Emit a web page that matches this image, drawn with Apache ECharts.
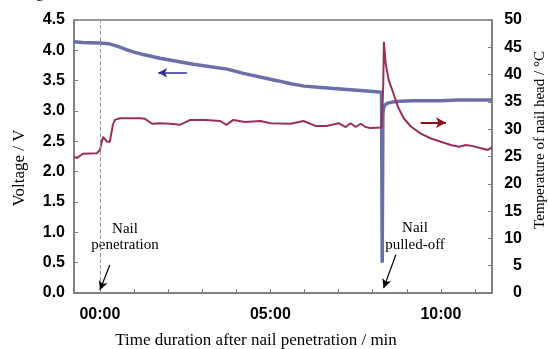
<!DOCTYPE html>
<html>
<head>
<meta charset="utf-8">
<script src="https://cdn.jsdelivr.net/npm/echarts@6/dist/echarts.min.js"></script>
<style>
html,body{margin:0;padding:0;background:#fff;}
#main{width:548px;height:349px;}
</style>
</head>
<body>
<div id="main"></div>
<script>
// ---- data (time in minutes after nail penetration) ----
const timeV = [-0.76, -0.5, 0, 0.25, 0.5, 0.78, 1.0, 1.27, 1.76, 2.25, 2.74, 3.25, 3.73, 4.21, 4.7, 5.2, 5.6, 6.0, 6.4, 6.86, 7.35, 7.84, 8.26, 8.28, 8.30, 8.32, 8.36, 8.45, 8.6, 8.8, 9.2, 9.6, 10.0, 10.5, 11.0, 11.5];
const voltage = [4.14, 4.13, 4.12, 4.11, 4.07, 4.01, 3.97, 3.93, 3.87, 3.82, 3.77, 3.73, 3.69, 3.62, 3.56, 3.50, 3.45, 3.41, 3.39, 3.37, 3.35, 3.33, 3.31, 0.5, 2.95, 3.04, 3.10, 3.13, 3.15, 3.16, 3.17, 3.17, 3.17, 3.18, 3.18, 3.18];

const timeT = [-0.76, -0.68, -0.5, -0.09, 0, 0.09, 0.21, 0.29, 0.38, 0.44, 0.59, 1.18, 1.32, 1.53, 1.76, 2.06, 2.35, 2.65, 3.09, 3.53, 3.71, 3.91, 4.26, 4.71, 5.0, 5.59, 5.97, 6.32, 6.65, 7.0, 7.21, 7.35, 7.5, 7.65, 7.79, 7.94, 8.26, 8.31, 8.33, 8.38, 8.47, 8.59, 8.74, 8.91, 9.12, 9.41, 9.71, 10.0, 10.29, 10.53, 10.74, 10.94, 11.18, 11.38, 11.5];
const temperature = [25.0, 24.7, 25.5, 25.6, 26.2, 28.6, 27.7, 27.7, 30.8, 31.7, 32.0, 32.0, 31.9, 31.0, 31.1, 31.0, 30.8, 31.7, 31.7, 31.5, 30.8, 31.7, 31.3, 31.5, 31.1, 31.0, 31.5, 30.6, 30.6, 31.1, 30.4, 31.1, 30.4, 31.0, 30.4, 30.2, 30.3, 38.0, 46.0, 42.1, 39.0, 36.9, 34.1, 32.0, 30.5, 29.2, 28.3, 27.7, 27.1, 26.8, 27.1, 26.9, 26.5, 26.2, 26.7];

const xLabelValues = [0, 5, 10];
const xTickValues = [0, 1, 2, 3, 4, 5, 6, 7, 8, 9, 10, 11];

const penetrationTime = 0;
const voltageArrow = [[2.55, 3.63], [1.71, 3.63]];
const tempArrow = [[9.41, 31.2], [10.15, 31.2]];
const penetrationArrow = [[0.29, 0.46], [0.0, 0.05]];
const pulloffArrow = [[8.68, 0.63], [8.32, 0.08]];

// ---- chart ----
const chart = echarts.init(document.getElementById('main'));
const labelFont = {fontFamily: '"Liberation Sans", Arial, sans-serif', fontWeight: 'bold', fontSize: 16, color: '#000'};
const serif = '"Liberation Serif", "Times New Roman", serif';
const frameColor = '#7a7a7a';

function arrowLine(pts, color, width, size) {
  return [
    {coord: pts[0], symbol: 'none', lineStyle: {color: color, width: width, type: 'solid'}},
    {coord: pts[1], symbol: 'arrow', symbolSize: size}
  ];
}

const option = {
  animation: false,
  backgroundColor: '#fff',
  grid: {left: 74, right: 56, top: 20, bottom: 56, show: true, borderColor: frameColor, borderWidth: 1.5, backgroundColor: 'transparent'},
  xAxis: {
    type: 'value', min: -0.76, max: 11.5,
    axisLine: {show: true, onZero: false, lineStyle: {color: frameColor, width: 1.5}},
    axisTick: {show: true, inside: true, length: 4, customValues: xTickValues, lineStyle: {color: frameColor}},
    axisLabel: Object.assign({margin: 14, customValues: xLabelValues,
      formatter: v => (v < 10 ? '0' : '') + v + ':00'}, labelFont),
    splitLine: {show: false}
  },
  yAxis: [
    {
      type: 'value', min: 0, max: 4.5, interval: 0.5, position: 'left',
      axisLine: {show: true, onZero: false, lineStyle: {color: frameColor, width: 1.5}},
      axisTick: {show: true, inside: true, length: 4, lineStyle: {color: frameColor}},
      axisLabel: Object.assign({margin: 9, formatter: v => v.toFixed(1)}, labelFont),
      splitLine: {show: false}
    },
    {
      type: 'value', min: 0, max: 50, interval: 5, position: 'right',
      axisLine: {show: true, onZero: false, lineStyle: {color: frameColor, width: 1.5}},
      axisTick: {show: true, inside: true, length: 4, lineStyle: {color: frameColor}},
      axisLabel: Object.assign({margin: 30, align: 'right'}, labelFont),
      splitLine: {show: false}
    }
  ],
  series: [
    {
      name: 'Voltage', type: 'line', yAxisIndex: 0, showSymbol: false, symbol: 'none',
      data: timeV.map((t, i) => [t, voltage[i]]),
      lineStyle: {color: '#6B6FA8', width: 3.5},
      z: 3,
      markLine: {
        silent: true, animation: false, symbol: ['none', 'none'],
        label: {show: false},
        lineStyle: {color: '#999', width: 1, type: 'dashed'},
        data: [
          [{coord: [penetrationTime, 0], symbol: 'none'},
           {coord: [penetrationTime, 4.5], symbol: 'none'}],
          arrowLine(voltageArrow, '#2c2c96', 1.5, [7, 9]),
          arrowLine(penetrationArrow, '#000', 1.2, [7, 9]),
          arrowLine(pulloffArrow, '#000', 1.2, [7, 9])
        ]
      }
    },
    {
      name: 'Temperature', type: 'line', yAxisIndex: 1, showSymbol: false, symbol: 'none',
      data: timeT.map((t, i) => [t, temperature[i]]),
      lineStyle: {color: '#9A2F5E', width: 2},
      z: 4,
      markLine: {
        silent: true, animation: false, symbol: ['none', 'none'],
        label: {show: false},
        data: [arrowLine(tempArrow, '#8b1414', 2, [8, 10])]
      }
    }
  ],
  graphic: [
    {type: 'text', x: 20, y: 168, rotation: Math.PI / 2,
     style: {text: 'Voltage / V', font: '17px ' + serif, fill: '#000', align: 'center', verticalAlign: 'middle'}},
    {type: 'text', x: 540, y: 140, rotation: Math.PI / 2,
     style: {text: 'Temperature of nail head / °C', font: '15px ' + serif, fill: '#000', align: 'center', verticalAlign: 'middle'}},
    {type: 'text', x: 256, y: 341,
     style: {text: 'Time duration after nail penetration / min', font: '17px ' + serif, fill: '#000', align: 'center', verticalAlign: 'middle'}},
    {type: 'text', x: 125, y: 237,
     style: {text: 'Nail\npenetration', font: '15px ' + serif, lineHeight: 16, fill: '#000', align: 'center', verticalAlign: 'middle'}},
    {type: 'text', x: 415, y: 237,
     style: {text: 'Nail\npulled-off', font: '15px ' + serif, lineHeight: 17, fill: '#000', align: 'center', verticalAlign: 'middle'}},
    {type: 'text', x: 40, y: -7,
     style: {text: 'g', font: '17px ' + serif, fill: '#000', align: 'center', verticalAlign: 'middle'}}
  ]
};
chart.setOption(option);
</script>
</body>
</html>
